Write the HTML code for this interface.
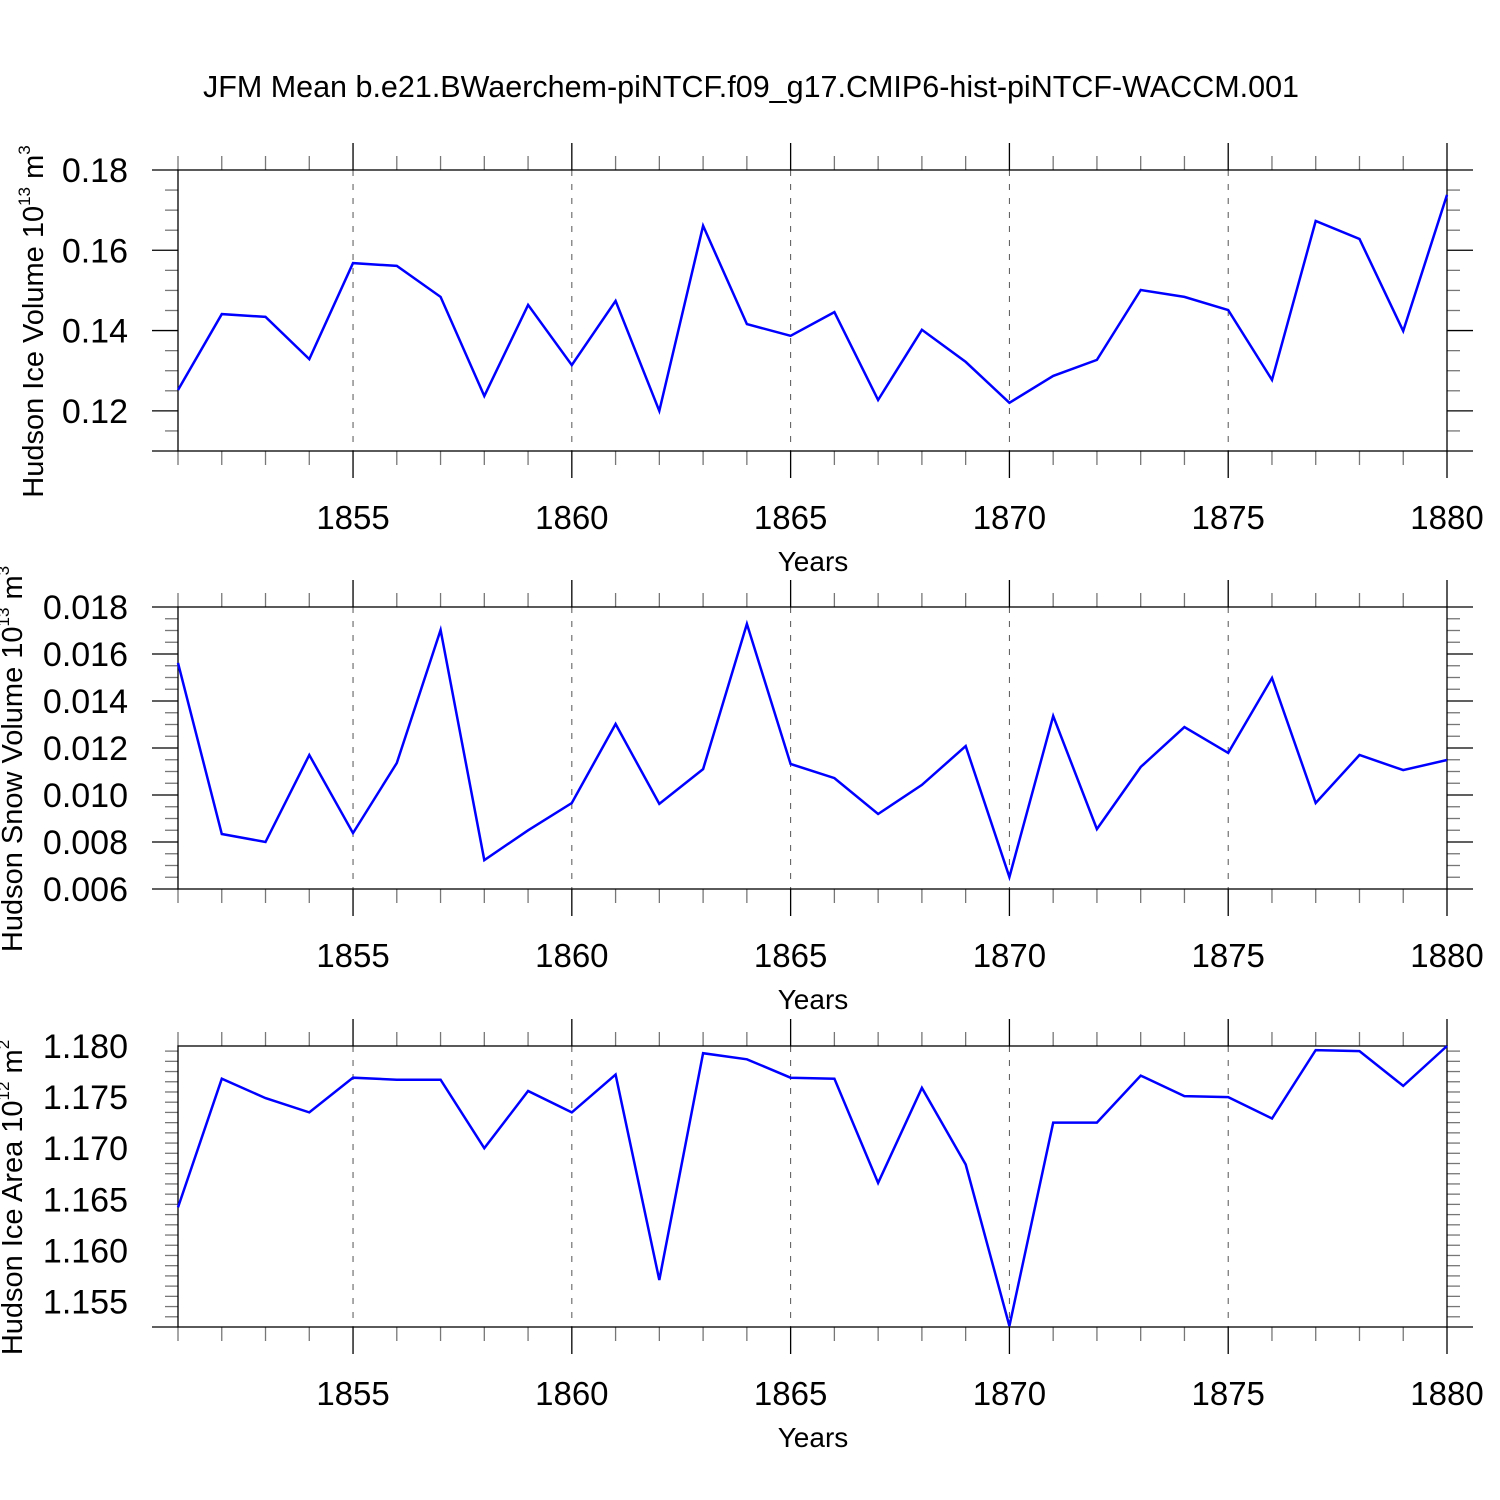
<!DOCTYPE html>
<html><head><meta charset="utf-8"><style>
body{margin:0;background:#fff}
svg{display:block;font-family:"Liberation Sans",sans-serif}
</style></head><body>
<svg id="c" width="1500" height="1500" viewBox="0 0 1500 1500">
<text x="751" y="97" font-size="30.5" text-anchor="middle">JFM Mean b.e21.BWaerchem-piNTCF.f09_g17.CMIP6-hist-piNTCF-WACCM.001</text>
</svg>
<script>
const years=[1851,1852,1853,1854,1855,1856,1857,1858,1859,1860,1861,1862,1863,1864,1865,1866,1867,1868,1869,1870,1871,1872,1873,1874,1875,1876,1877,1878,1879,1880];
const iceVolume=[0.1252,0.1441,0.1434,0.1329,0.1568,0.1561,0.1484,0.1237,0.1464,0.1314,0.1474,0.1200,0.1661,0.1416,0.1387,0.1446,0.1227,0.1402,0.1322,0.1220,0.1287,0.1327,0.1501,0.1484,0.1451,0.1277,0.1673,0.1628,0.1399,0.1738];
const snowVolume=[0.01562,0.00834,0.0080,0.0117,0.00838,0.01136,0.01702,0.00723,0.0085,0.00966,0.01302,0.00962,0.0111,0.01728,0.01132,0.01072,0.00919,0.01043,0.01208,0.00651,0.01336,0.00855,0.01119,0.01289,0.01179,0.01498,0.00966,0.0117,0.01106,0.01149];
const iceArea=[1.1642,1.1768,1.1749,1.1735,1.1769,1.1767,1.1767,1.1700,1.1756,1.1735,1.1772,1.1571,1.1793,1.1787,1.1769,1.1768,1.1666,1.1759,1.1684,1.1526,1.1725,1.1725,1.1771,1.1751,1.1750,1.1729,1.1796,1.1795,1.1761,1.1800];
const iceVolTicks=["0.12","0.14","0.16","0.18"];
const snowTicks=["0.006","0.008","0.010","0.012","0.014","0.016","0.018"];
const areaTicks=["1.155","1.160","1.165","1.170","1.175","1.180"];
const xTickLabels=["1855","1860","1865","1870","1875","1880"];

const svg=document.getElementById('c');
const NS='http://www.w3.org/2000/svg';
const X0=178,X1=1447;
function xs(y){return X0+(y-1851)/(1880-1851)*(X1-X0);}
function mk(tag,attrs,parent){const e=document.createElementNS(NS,tag);for(const k in attrs)e.setAttribute(k,attrs[k]);(parent||svg).appendChild(e);return e;}

function panel(cfg){
  const g=mk('g',{});
  
  
  const T=cfg.top,B=cfg.bottom;
  const ys=v=>T+(cfg.vmax-v)/(cfg.vmax-cfg.vmin)*(B-T);
  xTickLabels.forEach(l=>{const x=xs(+l); if(+l<1880){const ln=mk('line',{x1:x,x2:x,y1:T,y2:B,stroke:'#555','stroke-width':1,'stroke-dasharray':'6,8'},g);
    
    }});
  for(let y=1851;y<=1880;y++){const x=xs(y);const maj=(y%5===0);const L=maj?27:14;
    mk('line',{x1:x,x2:x,y1:T-L,y2:T,stroke:maj?'#000':'#777','stroke-width':1.3},g);
    mk('line',{x1:x,x2:x,y1:B,y2:B+L,stroke:maj?'#000':'#777','stroke-width':1.3},g);}
  const steps=Math.round((cfg.vmax-cfg.vmin)/cfg.minor);
  for(let i=0;i<=steps;i++){const v=cfg.vmin+i*cfg.minor;const y=ys(v);
    const maj=Math.abs(Math.round(v/cfg.major)*cfg.major-v)<cfg.minor*0.01 || i===0;
    const L=maj?26:13;
    mk('line',{x1:X0-L,x2:X0,y1:y,y2:y,stroke:maj?'#000':'#777','stroke-width':1.3},g);
    mk('line',{x1:X1,x2:X1+L,y1:y,y2:y,stroke:maj?'#000':'#777','stroke-width':1.3},g);}
  const fr=mk('rect',{x:X0,y:T,width:X1-X0,height:B-T,fill:'none',stroke:'#000','stroke-width':1.3},g);
  
  
  cfg.ticks.forEach(l=>{const t=mk('text',{x:128,y:ys(+l)+12,'font-size':34,'text-anchor':'end'},g);t.textContent=l;
    
    });
  xTickLabels.forEach(l=>{const t=mk('text',{x:xs(+l),y:B+78,'font-size':33,'text-anchor':'middle'},g);t.textContent=l;
    
    });
  const xt=mk('text',{x:813,y:B+120,'font-size':28,'text-anchor':'middle'},g);xt.textContent='Years';
  
  
  const yt=mk('text',{transform:`translate(${cfg.tx},${(T+B)/2+11}) rotate(-90)`,'font-size':29,'text-anchor':'middle'},g);
  
  
  yt.innerHTML=cfg.title+' 10<tspan font-size="17" dy="-13">'+cfg.exp1+'</tspan><tspan dy="13"> m</tspan><tspan font-size="17" dy="-13">'+cfg.exp2+'</tspan>';
  const pts=cfg.data.map((v,i)=>xs(years[i]).toFixed(1)+','+ys(v).toFixed(1)).join(' ');
  const pl=mk('polyline',{points:pts,fill:'none',stroke:'#0000ff','stroke-width':2.5,'stroke-linejoin':'miter'},g);
  
  
}
panel({name:'ice-volume-panel',top:170,bottom:451,vmin:0.11,vmax:0.18,major:0.02,minor:0.005,ticks:iceVolTicks,data:iceVolume,title:'Hudson Ice Volume',exp1:'13',exp2:'3',tx:43});
panel({name:'snow-volume-panel',top:607,bottom:889,vmin:0.006,vmax:0.018,major:0.002,minor:0.0005,ticks:snowTicks,data:snowVolume,title:'Hudson Snow Volume',exp1:'13',exp2:'3',tx:22});
panel({name:'ice-area-panel',top:1046,bottom:1327,vmin:1.1525,vmax:1.18,major:0.005,minor:0.001,ticks:areaTicks,data:iceArea,title:'Hudson Ice Area',exp1:'12',exp2:'2',tx:22});
</script>
</body></html>
